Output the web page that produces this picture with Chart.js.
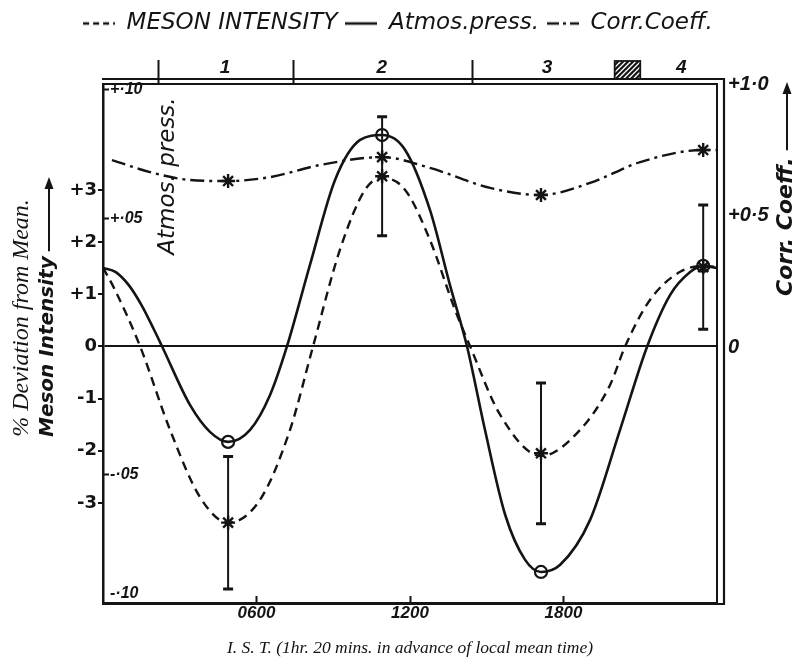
<!DOCTYPE html>
<html><head><meta charset="utf-8">
<script src="https://cdn.jsdelivr.net/npm/chart.js@4.4.1/dist/chart.umd.min.js"></script>
<style>html,body{margin:0;padding:0;background:#fff;}</style>
</head><body>
<canvas id="c" width="796" height="663"></canvas>
<script>
// ---------- data ----------
// x in hours of I.S.T. (0..24)
const mesonCurveH = [0, 0.45, 1.45, 2.62, 3.79, 4.89, 6.14, 7.31, 8.21, 9.26, 10.24, 10.91, 11.81, 12.78, 13.76, 14.35, 15.52, 17.12, 18.65, 19.82, 20.41, 21.38, 22.56, 23.46, 24];
const mesonCurveV = [1.51, 1.1, 0, -1.6, -2.89, -3.38, -2.94, -1.6, 0, 1.85, 3.0, 3.23, 3.0, 2.04, 0.7, 0, -1.31, -2.10, -1.6, -0.74, 0, 0.89, 1.43, 1.54, 1.52];

const pressCurveH = [0, 0.5, 1.0, 1.5, 2.0, 2.31, 3.4, 4.18, 4.89, 5.75, 6.53, 7.19, 8.09, 9.07, 10.05, 10.91, 11.81, 12.78, 13.56, 14.23, 14.93, 15.72, 16.5, 17.12, 17.87, 19.04, 20.21, 21.27, 22.17, 22.95, 23.46, 24];
const pressCurveV = [0.0306, 0.0290, 0.0240, 0.0162, 0.0064, 0, -0.0228, -0.0333, -0.0372, -0.0325, -0.0189, 0, 0.0318, 0.0649, 0.0805, 0.0824, 0.0766, 0.0532, 0.024, 0, -0.0325, -0.0656, -0.0832, -0.0879, -0.0851, -0.0676, -0.0325, 0, 0.0201, 0.029, 0.0314, 0.0306];

const corrCurveH = [0.35, 1.84, 3.4, 4.89, 6.53, 8.48, 10.91, 12.78, 15.13, 17.12, 19.04, 21.0, 23.46, 24];
const corrCurveV = [0.711, 0.665, 0.635, 0.631, 0.646, 0.692, 0.722, 0.681, 0.605, 0.578, 0.624, 0.703, 0.749, 0.749];

// measured points (one per period)
const pointH = [4.89, 10.91, 17.12, 23.46];
const mesonPtV = [-3.38, 3.26, -2.05, 1.52];
const mesonErr = [1.27, 1.14, 1.35, 1.19];
const pressPtV = [-0.0372, 0.0824, -0.0879, 0.0314];
const corrPtV = [0.631, 0.722, 0.578, 0.749];

// axes / ticks
const periodBounds = [2.15, 7.46, 14.45];
const periodLabelPos = [4.77, 10.9, 17.36, 22.6];
const periodLabels = ['1', '2', '3', '4'];
const hatchSpan = [20.0, 21.0];
const xTickVals = [6, 12, 18];
const xTickLabels = ['0600', '1200', '1800'];
const mesonTickVals = [3, 2, 1, 0, -1, -2, -3];
const mesonTickLabels = ['+3', '+2', '+1', '0', '-1', '-2', '-3'];
const pressTickVals = [0.10, 0.05, -0.05, -0.10];
const pressTickLabels = ['+·10', '+·05', '-·05', ['-·10', '']];
const corrTickVals = [1.0, 0.5, 0];
const corrTickLabels = ['+1·0', '+0·5', '0'];

const INK = '#141414';
const SANS = "'Liberation Sans', Arial, sans-serif";
const DV = "'DejaVu Sans', 'Liberation Sans', sans-serif";
const SERIF = "'Liberation Serif', 'Times New Roman', serif";
const DASH_MESON = [9, 6];
const DASH_CORR = [14, 5, 3, 5];
const LEGEND_DASH = [[6, 4], [], [12, 4, 3, 4]];

const pts = (xs, ys) => xs.map((x, i) => ({x, y: ys[i]}));

function lineSample(dash) {
  const c = document.createElement('canvas');
  c.width = 32; c.height = 6;
  const g = c.getContext('2d');
  g.strokeStyle = INK; g.lineWidth = 2.6; g.setLineDash(dash);
  g.beginPath(); g.moveTo(0, 3); g.lineTo(32, 3); g.stroke();
  return c;
}
const legendSamples = LEGEND_DASH.map(lineSample);

function rotText(ctx, txt, x, y, font, align) {
  ctx.save();
  ctx.translate(x, y);
  ctx.rotate(-Math.PI / 2);
  ctx.font = font;
  ctx.textAlign = align || 'center';
  ctx.textBaseline = 'middle';
  ctx.fillText(txt, 0, 0);
  const w = ctx.measureText(txt).width;
  ctx.restore();
  return w;
}
function arrowUp(ctx, x, y0, y1) {
  ctx.beginPath(); ctx.moveTo(x, y0); ctx.lineTo(x, y1 + 8); ctx.stroke();
  ctx.beginPath(); ctx.moveTo(x, y1); ctx.lineTo(x - 4.5, y1 + 12); ctx.lineTo(x + 4.5, y1 + 12); ctx.closePath(); ctx.fill();
}

const deco = {
  id: 'deco',
  afterDatasetsDraw(chart) {
    const {ctx, scales: s} = chart;
    ctx.save();
    ctx.strokeStyle = INK; ctx.fillStyle = INK;
    // error bars on meson intensity
    pointH.forEach((h, i) => {
      const x = s.x.getPixelForValue(h);
      const yt = s.y.getPixelForValue(mesonPtV[i] + mesonErr[i]);
      const yb = s.y.getPixelForValue(mesonPtV[i] - mesonErr[i]);
      ctx.lineWidth = 2;
      ctx.beginPath(); ctx.moveTo(x, yt); ctx.lineTo(x, yb); ctx.stroke();
      ctx.lineWidth = 3;
      ctx.beginPath(); ctx.moveTo(x - 5, yt); ctx.lineTo(x + 5, yt); ctx.moveTo(x - 5, yb); ctx.lineTo(x + 5, yb); ctx.stroke();
    });
    ctx.restore();
  },
  afterDraw(chart) {
    const {ctx, chartArea: a, scales: s} = chart;
    ctx.save();
    ctx.strokeStyle = INK; ctx.fillStyle = INK;
    // outer (double) frame on top and right
    ctx.lineWidth = 2.2;
    ctx.beginPath();
    ctx.moveTo(a.left - 1, a.top - 5);
    ctx.lineTo(a.right + 7, a.top - 5);
    ctx.lineTo(a.right + 7, a.bottom + 1);
    ctx.lineTo(a.right, a.bottom + 1);
    ctx.stroke();
    // hatched block in the period strip
    const hx0 = s.xTop.getPixelForValue(hatchSpan[0]);
    const hx1 = s.xTop.getPixelForValue(hatchSpan[1]);
    const hy0 = a.top - 23, hy1 = a.top - 5;
    ctx.lineWidth = 1.8;
    ctx.strokeRect(hx0, hy0, hx1 - hx0, hy1 - hy0);
    ctx.save();
    ctx.beginPath(); ctx.rect(hx0, hy0, hx1 - hx0, hy1 - hy0); ctx.clip();
    ctx.lineWidth = 2.2;
    ctx.beginPath();
    for (let k = -24; k < 40; k += 5) { ctx.moveTo(hx0 + k, hy1); ctx.lineTo(hx0 + k + 18, hy0); }
    ctx.stroke();
    ctx.restore();
    // rotated titles
    rotText(ctx, '% Deviation from Mean.', 22, 318, `italic 24px ${SERIF}`);
    ctx.lineWidth = 2;
    const w1 = rotText(ctx, 'Meson Intensity', 48, 437, `bold oblique 20px ${DV}`, 'left');
    arrowUp(ctx, 49, 437 - w1 - 5, 177);
    rotText(ctx, 'Atmos. press.', 168, 176, `oblique 23px ${DV}`);
    const w2 = rotText(ctx, 'Corr. Coeff.', 786, 296, `bold oblique 22px ${DV}`, 'left');
    arrowUp(ctx, 787, 296 - w2 - 7, 82);
    ctx.restore();
  }
};

const ticksFrom = (vals) => (sc) => { sc.ticks = vals.map(v => ({value: v})); };

new Chart(document.getElementById('c'), {
  type: 'line',
  data: {
    datasets: [
      {label: 'MESON INTENSITY', data: pts(mesonCurveH, mesonCurveV), yAxisID: 'y',
       borderColor: INK, backgroundColor: 'rgba(0,0,0,0)', borderWidth: 2.4, borderDash: DASH_MESON, pointRadius: 0, cubicInterpolationMode: 'monotone', fill: false},
      {label: 'Atmos.press.', data: pts(pressCurveH, pressCurveV), yAxisID: 'yP',
       borderColor: INK, backgroundColor: 'rgba(0,0,0,0)', borderWidth: 2.6, pointRadius: 0, cubicInterpolationMode: 'monotone', fill: false},
      {label: 'Corr.Coeff.', data: pts(corrCurveH, corrCurveV), yAxisID: 'yC',
       borderColor: INK, backgroundColor: 'rgba(0,0,0,0)', borderWidth: 2.4, borderDash: DASH_CORR, pointRadius: 0, cubicInterpolationMode: 'monotone', fill: false},
      {label: 'meson pts', data: pts(pointH, mesonPtV), yAxisID: 'y', showLine: false,
       pointStyle: 'star', pointRadius: 7, pointBorderWidth: 2.4, borderColor: INK, backgroundColor: INK},
      {label: 'press pts', data: pts(pointH, pressPtV), yAxisID: 'yP', showLine: false,
       pointStyle: 'circle', pointRadius: 6, pointBorderWidth: 2.2, borderColor: INK, backgroundColor: '#fff'},
      {label: 'press dots', data: pts(pointH, pressPtV), yAxisID: 'yP', showLine: false,
       pointStyle: 'circle', pointRadius: 1.6, pointBorderWidth: 0, borderColor: INK, backgroundColor: INK},
      {label: 'corr pts', data: pts(pointH, corrPtV), yAxisID: 'yC', showLine: false,
       pointStyle: 'star', pointRadius: 7, pointBorderWidth: 2.4, borderColor: INK, backgroundColor: INK}
    ]
  },
  options: {
    responsive: false,
    animation: false,
    devicePixelRatio: 1,
    layout: {padding: {left: 0, right: 0, top: 4, bottom: 0}},
    plugins: {
      legend: {
        position: 'top',
        labels: {
          generateLabels: (chart) => Chart.defaults.plugins.legend.labels.generateLabels(chart)
            .filter(it => it.datasetIndex < 3)
            .map((it, i) => Object.assign(it, {pointStyle: legendSamples[i]})),
          usePointStyle: true, pointStyleWidth: 32,
          color: INK, padding: 8,
          font: {family: DV, style: 'oblique', size: 23}
        }
      },
      tooltip: {enabled: false}
    },
    scales: {
      x: {
        type: 'linear', position: 'bottom', min: 0, max: 24,
        afterBuildTicks: ticksFrom(xTickVals),
        afterFit: (sc) => { sc.height = 60; },
        grid: {drawOnChartArea: false, tickLength: -7, tickWidth: 2, color: INK},
        border: {display: true, color: INK, width: 3},
        ticks: {callback: (v, i) => xTickLabels[i], color: INK, padding: 7, maxRotation: 0,
                font: {family: SANS, style: 'italic', weight: 'bold', size: 17}},
        title: {display: true, text: 'I. S. T. (1hr. 20 mins. in advance of local mean time)', color: INK,
                font: {family: SERIF, style: 'italic', size: 17.5}, padding: {top: 0, bottom: 4}}
      },
      xTop: {
        type: 'linear', position: 'top', min: 0, max: 24,
        afterBuildTicks: (sc) => {
          const t = periodBounds.map(v => ({value: v, b: true})).concat(periodLabelPos.map((v, i) => ({value: v, lab: periodLabels[i]})));
          t.sort((p, q) => p.value - q.value);
          sc.ticks = t;
        },
        afterFit: (sc) => { const lg = sc.chart.legend; sc.height = 80 - (lg ? lg.height : 0); },
        grid: {drawOnChartArea: false, tickLength: 24, tickWidth: 2,
               tickColor: (c) => (c.tick && c.tick.b) ? INK : 'rgba(0,0,0,0)', color: 'rgba(0,0,0,0)'},
        border: {display: true, color: INK, width: 2},
        ticks: {callback: function (v, i, arr) { return arr[i].lab || ''; }, color: INK, padding: -19, maxRotation: 0, autoSkip: false,
                font: {family: SANS, style: 'italic', weight: 'bold', size: 19}}
      },
      y: {
        type: 'linear', position: 'left', min: -4.92, max: 5.03, weight: 1,
        afterBuildTicks: ticksFrom(mesonTickVals),
        afterFit: (sc) => { sc.width = 103; },
        grid: {drawOnChartArea: true, tickLength: 5, tickWidth: 2, lineWidth: 2, tickColor: INK,
               color: (c) => (c.tick && c.tick.value === 0) ? INK : 'rgba(0,0,0,0)'},
        border: {display: true, color: INK, width: 2.5},
        ticks: {callback: (v, i) => mesonTickLabels[i], color: INK, padding: 1, autoSkip: false,
                font: {family: DV, weight: 'bold', size: 18}}
      },
      yP: {
        type: 'linear', position: 'left', min: -0.1, max: 0.1023, weight: 0,
        afterBuildTicks: ticksFrom(pressTickVals),
        afterFit: (sc) => { sc.width = 0; },
        grid: {drawOnChartArea: false, tickLength: -6, tickWidth: 2, color: INK},
        border: {display: false},
        ticks: {mirror: true, callback: (v, i) => pressTickLabels[i], color: INK, padding: 7, autoSkip: false,
                font: {family: SANS, style: 'italic', weight: 'bold', size: 16}}
      },
      yC: {
        type: 'linear', position: 'right', min: -0.973, max: 1.0,
        afterBuildTicks: ticksFrom(corrTickVals),
        afterFit: (sc) => { sc.width = 79; },
        grid: {drawOnChartArea: false, drawTicks: false},
        border: {display: true, color: INK, width: 2},
        ticks: {callback: (v, i) => corrTickLabels[i], color: INK, padding: 11, autoSkip: false,
                font: {family: SANS, style: 'italic', weight: 'bold', size: 20}}
      }
    }
  },
  plugins: [deco]
});
</script>
</body></html>
